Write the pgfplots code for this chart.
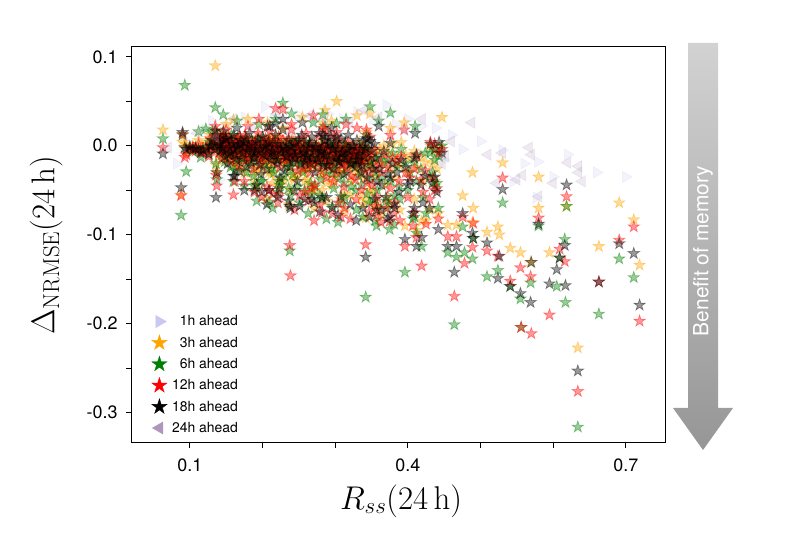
\RequirePackage{fix-cm}
\documentclass[border=0pt]{standalone}
\usepackage[no-math]{fontspec}
\setmainfont{TeX Gyre Heros}
\usepackage{pgfplots}
\pgfplotsset{compat=1.18}
\usepackage{pgfplotstable}

\pgfdeclareplotmark{fstar}{%
  \pgfpathmoveto{\pgfpointpolar{90}{\pgfplotmarksize}}%
  \pgfpathlineto{\pgfpointpolar{126}{0.382\pgfplotmarksize}}%
  \pgfpathlineto{\pgfpointpolar{162}{\pgfplotmarksize}}%
  \pgfpathlineto{\pgfpointpolar{198}{0.382\pgfplotmarksize}}%
  \pgfpathlineto{\pgfpointpolar{234}{\pgfplotmarksize}}%
  \pgfpathlineto{\pgfpointpolar{270}{0.382\pgfplotmarksize}}%
  \pgfpathlineto{\pgfpointpolar{306}{\pgfplotmarksize}}%
  \pgfpathlineto{\pgfpointpolar{342}{0.382\pgfplotmarksize}}%
  \pgfpathlineto{\pgfpointpolar{18}{\pgfplotmarksize}}%
  \pgfpathlineto{\pgfpointpolar{54}{0.382\pgfplotmarksize}}%
  \pgfpathclose
  \pgfusepathqfillstroke
}

\definecolor{c1h}{RGB}{200,200,240}
\definecolor{c3h}{RGB}{255,165,0}
\definecolor{c6h}{RGB}{0,128,0}
\definecolor{c12h}{RGB}{255,0,0}
\definecolor{c18h}{RGB}{0,0,0}
\definecolor{c24h}{RGB}{176,150,186}
\definecolor{arrtop}{RGB}{210,210,210}
\definecolor{arrbot}{RGB}{150,150,150}

% stations: x, 3h (o), 6h (g), 12h (r), 18h (k)
\pgfplotstableread{
x o g r k
0.063 0.018 0.008 -0.002 -0.009
0.088 -0.055 -0.078 -0.056 -0.047
0.090 0.004 0.012 0.013 0.015
0.093 0.002 0.068 -0.013 -0.002
0.095 -0.008 -0.029 -0.010 -0.004
0.100 -0.002 -0.004 -0.003 -0.001
0.104 0.000 -0.006 -0.002 -0.004
0.108 -0.004 -0.002 -0.006 -0.003
0.112 0.006 0.016 0.002 -0.004
0.115 -0.004 -0.013 -0.006 -0.008
0.118 -0.002 -0.004 -0.008 -0.005
0.122 0.004 0.019 -0.004 -0.002
0.126 -0.006 -0.010 -0.012 -0.009
0.130 0.002 0.006 -0.004 0.000
0.135 0.090 0.043 0.022 0.017
0.136 -0.022 -0.020 -0.033 -0.058
0.137 -0.030 -0.038 -0.045 -0.030
0.146 0.012 0.035 0.010 0.006
0.160 0.029 -0.040 -0.055 -0.034
0.162 -0.020 -0.028 -0.040 -0.034
0.175 -0.030 -0.045 -0.040 -0.050
0.189 -0.040 -0.045 -0.052 -0.050
0.209 -0.030 -0.063 -0.050 -0.050
0.218 0.010 0.030 0.042 0.025
0.223 -0.045 -0.040 -0.055 -0.048
0.228 0.020 0.048 0.041 0.030
0.2375 nan -0.118 -0.112 -0.068
0.2385 -0.050 -0.056 -0.146 -0.070
0.258 -0.040 -0.050 -0.052 -0.060
0.268 -0.045 -0.055 -0.048 -0.060
0.282 -0.050 -0.060 -0.075 -0.058
0.283 0.025 0.035 0.020 0.012
0.286 0.040 0.022 0.018 0.010
0.302 0.050 0.025 0.015 0.010
0.308 -0.060 -0.065 -0.080 -0.057
0.342 -0.081 -0.170 -0.111 -0.125
0.343 0.015 0.012 0.018 0.008
0.348 0.036 0.044 0.010 0.005
0.357 -0.070 -0.090 -0.078 -0.072
0.375 -0.065 -0.094 -0.085 -0.080
0.376 0.020 0.037 0.012 0.003
0.396 -0.090 -0.142 -0.113 -0.105
0.409 -0.060 -0.080 -0.075 -0.070
0.412 -0.095 -0.098 -0.103 -0.113
0.419 -0.085 -0.113 -0.135 -0.103
0.430 -0.072 -0.035 -0.060 -0.070
0.437 -0.040 -0.045 -0.050 -0.035
0.447 0.032 0.000 -0.004 -0.008
0.150 0.024 nan 0.018 nan
0.165 nan 0.028 nan 0.020
0.180 0.030 nan 0.022 nan
0.195 nan 0.024 0.030 nan
0.207 0.026 nan nan 0.022
0.240 nan 0.036 0.024 nan
0.255 0.032 nan nan 0.026
0.270 nan 0.026 0.034 nan
0.295 0.028 nan nan 0.020
0.315 nan 0.030 0.024 nan
0.330 0.034 nan 0.020 nan
0.360 nan 0.028 nan 0.022
0.395 0.026 nan 0.018 nan
0.410 nan 0.022 nan 0.014
0.192 -0.048 -0.062 nan -0.044
0.199 nan -0.040 -0.058 -0.052
0.206 -0.060 nan -0.046 -0.066
0.214 -0.042 -0.070 -0.054 nan
0.221 nan -0.052 -0.064 -0.058
0.236 -0.066 -0.048 nan -0.062
0.244 -0.038 nan -0.072 -0.050
0.251 nan -0.064 -0.056 -0.068
0.263 -0.052 -0.076 -0.062 nan
0.271 -0.070 nan -0.084 -0.064
0.279 nan -0.056 -0.066 -0.074
0.288 -0.062 -0.082 nan -0.058
0.296 -0.044 -0.068 -0.076 -0.070
0.304 nan -0.086 -0.064 -0.078
0.313 -0.074 -0.058 -0.070 nan
0.321 -0.056 nan -0.082 -0.066
0.329 nan -0.072 -0.060 -0.084
0.338 -0.066 -0.080 nan -0.070
0.347 -0.050 -0.064 -0.074 -0.080
0.355 nan -0.084 -0.068 -0.060
0.363 -0.078 nan -0.086 -0.072
0.372 -0.058 -0.070 nan -0.082
0.381 nan -0.088 -0.076 -0.066
0.389 -0.072 -0.060 -0.084 nan
0.407 nan -0.082 -0.090 -0.076
0.425 -0.084 -0.076 -0.088 nan
0.442 -0.076 -0.070 -0.082 -0.094
0.361 -0.004 -0.012 -0.020 -0.026
0.364 -0.020 -0.036 -0.030 -0.044
0.367 0.000 -0.018 -0.010 -0.006
0.370 -0.044 -0.062 -0.070 -0.058
0.373 -0.008 -0.016 -0.024 -0.032
0.376 -0.026 -0.040 -0.048 -0.036
0.379 0.002 -0.008 -0.014 -0.020
0.382 -0.036 -0.056 -0.064 -0.070
0.385 -0.012 -0.024 -0.018 -0.030
0.388 -0.022 -0.046 -0.040 -0.052
0.391 0.004 -0.004 -0.012 -0.016
0.397 -0.010 -0.020 -0.030 -0.024
0.400 -0.030 -0.050 -0.058 -0.044
0.403 -0.014 -0.030 -0.036 -0.040
0.409 -0.006 -0.018 -0.026 -0.014
0.412 -0.024 -0.040 -0.012 -0.010
0.418 -0.012 -0.026 -0.038 -0.044
0.421 -0.040 -0.058 -0.052 -0.064
0.424 -0.018 -0.008 -0.028 -0.034
0.431 0.000 -0.008 0.004 0.002
0.434 -0.020 -0.030 -0.036 -0.042
0.437 -0.006 -0.016 0.002 -0.004
0.440 -0.026 -0.042 -0.048 -0.052
0.443 -0.002 -0.012 -0.008 0.004
0.128 0.012 0.004 0.008 0.000
0.131 0.002 0.016 -0.002 0.006
0.134 0.008 0.000 0.010 -0.004
0.137 0.016 0.010 0.004 0.012
0.141 0.004 -0.002 0.012 0.002
0.145 0.000 0.008 -0.004 -0.002
0.149 0.010 0.002 0.006 0.008
0.153 -0.004 -0.008 0.002 -0.010
0.157 0.004 0.012 -0.002 0.006
0.161 -0.006 0.000 -0.010 -0.004
0.165 0.008 0.002 0.004 -0.002
0.169 0.000 -0.004 0.010 0.002
0.173 -0.010 0.004 -0.006 -0.008
0.177 0.006 -0.002 0.000 0.008
0.181 -0.004 -0.010 -0.014 0.000
0.185 0.002 0.006 -0.002 -0.006
0.189 -0.008 -0.002 0.002 -0.012
0.193 0.010 0.000 -0.006 0.004
0.197 -0.002 -0.008 -0.014 -0.004
0.201 0.004 0.008 0.000 -0.010
0.205 -0.010 -0.004 -0.008 0.000
0.209 0.008 0.002 0.006 -0.002
0.213 -0.004 -0.012 -0.002 -0.008
0.217 0.000 0.006 -0.010 0.002
0.221 -0.014 -0.006 0.000 -0.016
0.225 0.006 -0.002 -0.008 -0.004
0.229 -0.006 -0.010 -0.016 -0.002
0.233 0.002 0.004 -0.004 -0.012
0.237 -0.010 -0.016 -0.006 0.000
0.241 0.008 0.000 -0.012 -0.006
0.245 -0.004 -0.008 0.002 -0.014
0.249 0.000 0.006 -0.006 -0.002
0.253 -0.012 -0.018 -0.010 -0.020
0.257 0.004 -0.002 0.000 -0.008
0.261 -0.008 -0.006 -0.016 -0.012
0.265 -0.002 0.004 -0.004 0.002
0.269 -0.016 -0.010 -0.020 -0.014
0.273 0.002 -0.004 -0.008 -0.002
0.277 -0.010 -0.014 -0.002 -0.018
0.281 -0.004 0.002 -0.012 -0.006
0.285 0.006 -0.008 0.000 -0.010
0.289 -0.014 -0.002 -0.018 -0.022
0.293 0.000 -0.010 -0.006 0.002
0.297 -0.006 -0.016 -0.012 -0.004
0.301 0.004 0.000 -0.010 -0.014
0.305 -0.012 -0.006 -0.002 -0.018
0.309 -0.002 -0.014 -0.020 -0.008
0.313 -0.008 0.002 -0.006 -0.012
0.317 0.002 -0.010 -0.016 -0.004
0.321 -0.016 -0.004 -0.012 -0.020
0.325 -0.002 -0.012 -0.008 0.000
0.329 -0.010 -0.020 -0.004 -0.016
0.333 0.004 -0.006 -0.014 -0.010
0.337 -0.006 -0.002 -0.018 -0.022
0.341 0.000 -0.014 -0.008 -0.004
0.4755 -0.056 -0.091 -0.080 -0.076
0.455 -0.089 -0.120 -0.102 -0.113
0.467 -0.089 -0.125 -0.102 -0.113
0.478 nan -0.120 -0.132 nan
0.464 nan -0.201 -0.169 -0.142
0.489 -0.086 -0.127 -0.114 -0.098
0.490 -0.070 -0.104 -0.087 -0.104
0.509 -0.097 -0.147 -0.118 -0.109
0.524 -0.091 -0.140 -0.124 -0.149
0.526 -0.100 nan nan -0.124
0.541 -0.115 -0.158 -0.152 -0.158
0.555 -0.120 -0.172 -0.137 -0.166
0.556 nan -0.204 -0.204 nan
0.569 -0.131 -0.154 -0.147 -0.176
0.570 nan nan -0.211 -0.131
0.580 -0.070 -0.090 -0.081 -0.088
0.595 -0.120 nan -0.190 -0.155
0.605 nan -0.158 nan -0.139
0.616 nan -0.105 -0.130 -0.112
0.617 nan -0.176 nan -0.157
0.609 nan -0.126 -0.116 -0.126
0.634 -0.227 -0.316 -0.276 -0.253
0.663 -0.113 -0.189 -0.153 -0.153
0.691 -0.064 -0.127 -0.106 -0.110
0.711 -0.083 -0.148 -0.091 -0.121
0.719 -0.134 nan -0.197 -0.179
0.5305 -0.019 -0.064 -0.036 -0.049
0.6185 -0.068 -0.068 -0.057 -0.044
0.489 -0.030 nan nan nan
0.580 -0.035 nan nan nan
}\stars

% core stations, x from 0.14 to 0.25 (columns in another order)
\pgfplotstableread{
x r k g o
0.140 -0.008 0.004 -0.002 -0.012
0.142 0.002 -0.006 0.008 -0.001
0.144 -0.014 -0.004 -0.010 -0.006
0.146 0.006 0.016 0.000 0.004
0.148 -0.004 -0.012 -0.018 -0.008
0.150 0.000 0.008 -0.006 -0.014
0.152 -0.010 -0.020 -0.004 -0.016
0.154 0.010 -0.002 0.004 0.000
0.156 -0.018 -0.008 -0.024 -0.012
0.158 -0.002 0.002 -0.010 -0.006
0.160 -0.006 0.012 -0.002 0.006
0.162 0.004 -0.010 -0.014 -0.020
0.164 -0.012 -0.016 -0.006 -0.004
0.166 0.008 0.000 0.010 -0.002
0.168 -0.022 -0.028 -0.018 -0.026
0.170 -0.004 0.006 -0.008 -0.010
0.172 0.002 -0.014 0.002 -0.004
0.174 -0.010 -0.002 -0.016 -0.014
0.176 0.012 0.004 -0.004 0.008
0.178 -0.016 -0.024 -0.030 -0.020
0.180 -0.002 -0.006 0.004 -0.008
0.182 0.006 0.014 -0.010 -0.016
0.184 -0.008 -0.018 -0.022 -0.012
0.186 0.000 0.002 -0.002 -0.004
0.188 -0.026 -0.014 -0.034 -0.030
0.190 0.004 -0.008 -0.006 0.002
0.192 -0.012 -0.004 -0.018 -0.024
0.194 0.014 0.008 0.002 -0.006
0.196 -0.006 -0.022 -0.012 -0.016
0.198 -0.020 -0.032 -0.040 -0.028
0.200 0.002 0.010 -0.004 -0.010
0.202 -0.010 -0.002 -0.020 -0.014
0.204 0.008 -0.012 0.000 -0.002
0.206 -0.014 -0.026 -0.008 -0.022
0.208 -0.002 0.004 -0.014 -0.018
0.210 0.016 0.022 0.006 0.004
0.212 -0.008 -0.016 -0.026 -0.032
0.214 0.004 -0.006 -0.002 -0.008
0.216 -0.018 -0.010 -0.030 -0.024
0.218 0.000 0.012 -0.010 -0.014
0.220 -0.006 -0.020 -0.016 -0.004
0.222 0.010 0.002 -0.006 -0.012
0.224 -0.024 -0.036 -0.044 -0.038
0.226 -0.004 -0.008 0.002 -0.010
0.228 0.006 0.018 -0.012 -0.018
0.230 -0.012 -0.028 -0.034 -0.040
0.232 -0.002 -0.004 -0.020 -0.016
0.234 -0.016 -0.012 -0.024 -0.008
0.236 0.008 0.006 -0.004 -0.002
0.238 -0.008 -0.024 -0.018 -0.028
0.240 0.018 -0.002 0.004 -0.006
0.242 -0.014 -0.018 -0.032 -0.036
0.244 0.002 -0.010 -0.012 -0.020
0.246 -0.006 0.004 -0.008 -0.004
0.248 -0.028 -0.040 -0.046 -0.034
}\starsA

% core stations, x from 0.25 to 0.36 (columns in another order)
\pgfplotstableread{
x k r o g
0.250 0.006 0.000 -0.016 -0.012
0.252 -0.010 -0.014 -0.006 -0.022
0.254 0.012 0.008 -0.002 -0.008
0.256 -0.004 -0.026 -0.028 -0.030
0.258 -0.018 -0.006 -0.020 -0.014
0.260 0.004 0.014 -0.010 -0.002
0.262 -0.012 -0.022 -0.038 -0.026
0.264 -0.002 -0.008 -0.014 -0.018
0.266 -0.020 -0.030 -0.024 -0.042
0.268 0.010 0.002 -0.004 -0.010
0.270 -0.006 -0.016 -0.022 -0.006
0.272 -0.030 -0.044 -0.050 -0.046
0.274 0.000 -0.004 -0.012 -0.016
0.276 -0.014 -0.020 -0.008 -0.024
0.278 0.014 0.010 -0.002 -0.008
0.280 -0.008 -0.028 -0.034 -0.038
0.282 -0.002 -0.010 -0.018 -0.012
0.284 -0.022 -0.014 -0.028 -0.020
0.286 0.006 0.000 -0.006 -0.014
0.288 -0.010 -0.036 -0.042 -0.030
0.290 0.002 -0.006 -0.016 -0.022
0.292 -0.016 -0.024 -0.010 -0.018
0.294 0.010 0.012 -0.004 -0.002
0.296 -0.004 -0.018 -0.026 -0.032
0.298 -0.026 -0.040 -0.036 -0.048
0.300 0.004 -0.002 -0.012 -0.008
0.302 -0.012 -0.030 -0.020 -0.026
0.304 -0.002 0.006 -0.008 -0.016
0.306 -0.018 -0.012 -0.030 -0.036
0.308 0.008 -0.008 -0.002 -0.010
0.310 -0.008 -0.022 -0.028 -0.020
0.312 -0.032 -0.046 -0.054 -0.042
0.314 0.002 -0.004 -0.014 -0.018
0.316 -0.014 -0.026 -0.010 -0.030
0.318 0.012 0.004 -0.006 -0.004
0.320 -0.006 -0.016 -0.024 -0.012
0.322 -0.020 -0.034 -0.040 -0.046
0.324 0.000 -0.010 -0.016 -0.022
0.326 -0.010 -0.002 -0.020 -0.008
0.328 -0.024 -0.038 -0.030 -0.050
0.330 0.006 -0.006 -0.012 -0.016
0.332 -0.016 -0.020 -0.028 -0.034
0.334 -0.004 -0.012 -0.004 -0.014
0.336 -0.030 -0.050 -0.058 -0.044
0.338 0.004 -0.002 -0.010 -0.018
0.340 -0.012 -0.028 -0.036 -0.026
0.342 -0.002 -0.016 -0.020 -0.010
0.344 -0.036 -0.042 -0.062 -0.054
0.346 0.008 -0.008 -0.014 -0.004
0.348 -0.018 -0.030 -0.024 -0.038
0.350 -0.006 -0.012 -0.018 -0.022
0.352 -0.026 -0.044 -0.052 -0.060
0.354 0.002 -0.004 -0.008 -0.014
0.356 -0.014 -0.024 -0.034 -0.030
0.358 -0.040 -0.058 -0.066 -0.050
}\starsB

% 1h ahead (right-pointing triangles)
\pgfplotstableread{
x y
0.082 -0.020
0.095 0.005
0.120 0.018
0.130 0.028
0.141 -0.038
0.150 0.022
0.175 0.032
0.203 0.044
0.215 0.030
0.230 0.025
0.250 0.034
0.270 0.028
0.290 0.036
0.310 0.030
0.330 0.038
0.352 0.030
0.370 0.046
0.383 0.024
0.400 0.030
0.418 0.022
0.438 0.020
0.450 -0.016
0.460 0.012
0.475 -0.004
0.500 0.005
0.530 -0.005
0.545 -0.040
0.560 -0.020
0.579 -0.018
0.577 -0.058
0.600 -0.035
0.620 -0.010
0.660 -0.030
0.700 -0.035
}\tone

% 24h ahead (left-pointing triangles)
\pgfplotstableread{
x y
0.070 -0.002
0.110 0.014
0.135 0.010
0.160 0.030
0.185 0.020
0.220 0.036
0.240 0.015
0.265 0.034
0.285 0.030
0.320 0.026
0.340 0.040
0.360 0.032
0.395 0.018
0.420 0.030
0.447 -0.020
0.452 -0.012
0.460 0.005
0.488 0.026
0.510 -0.010
0.530 -0.008
0.522 -0.042
0.550 -0.038
0.558 -0.033
0.567 -0.002
0.570 -0.010
0.580 -0.057
0.600 -0.042
0.620 -0.019
0.635 -0.023
0.635 -0.030
0.640 -0.040
}\ttwentyfour

\pgfplotsset{
  starO/.style={forget plot, only marks, mark=fstar, mark size=6bp,
    mark options={fill=c3h, draw=c3h, opacity=0.4, line width=0.7bp}},
  starG/.style={forget plot, only marks, mark=fstar, mark size=6bp,
    mark options={fill=c6h, draw=c6h, opacity=0.4, line width=0.7bp}},
  starR/.style={forget plot, only marks, mark=fstar, mark size=6bp,
    mark options={fill=c12h, draw=c12h, opacity=0.4, line width=0.7bp}},
  starK/.style={forget plot, only marks, mark=fstar, mark size=6bp,
    mark options={fill=c18h, draw=c18h, opacity=0.4, line width=0.7bp}},
}

\begin{document}
\begin{tikzpicture}
\useasboundingbox (0,0) rectangle (789bp,545bp);
\begin{axis}[
  at={(131bp,102bp)}, anchor=south west,
  width=534bp, height=396bp, scale only axis,
  xmin=0.019, xmax=0.754, ymin=-0.334, ymax=0.111,
  xtick={0.1,0.2,0.3,0.4,0.5,0.6,0.7},
  xticklabels={0.1,,,0.4,,,0.7},
  ytick={-0.3,-0.25,-0.2,-0.15,-0.1,-0.05,0,0.05,0.1},
  yticklabels={-0.3,,-0.2,,-0.1,,0.0,,0.1},
  tick align=outside, xtick pos=left, ytick pos=left,
  major tick length=5bp,
  tick style={black, line width=0.8bp},
  axis line style={line width=1bp},
  ticklabel style={font=\fontsize{18}{21}\selectfont},
  yticklabel style={xshift=-5bp},
  xticklabel style={yshift=-7bp},
  xlabel={$R_{ss}(24\,\mathrm{h})$},
  ylabel={$\Delta_{\mathrm{NRMSE}}(24\,\mathrm{h})$},
  label style={font=\fontsize{33}{39}\selectfont},
  xlabel style={at={(axis description cs:0.506,-0.146)}, anchor=center},
  ylabel style={at={(axis description cs:-0.159,0.5)}, anchor=center},
  legend style={at={(0.033,0.332)}, anchor=north west, draw=none, fill=none,
    font=\fontsize{14}{16}\selectfont, row sep=5.5bp, column sep=3bp},
  legend cell align=right,
]
\addlegendimage{only marks, mark=triangle*, mark size=7bp, mark options={rotate=-90, fill=c1h, draw=c1h}}
\addlegendentry{1h ahead}
\addlegendimage{only marks, mark=fstar, mark size=8bp, mark options={fill=c3h, draw=c3h}}
\addlegendentry{3h ahead}
\addlegendimage{only marks, mark=fstar, mark size=8bp, mark options={fill=c6h, draw=c6h}}
\addlegendentry{6h ahead}
\addlegendimage{only marks, mark=fstar, mark size=8bp, mark options={fill=c12h, draw=c12h}}
\addlegendentry{12h ahead}
\addlegendimage{only marks, mark=fstar, mark size=8bp, mark options={fill=c18h, draw=c18h}}
\addlegendentry{18h ahead}
\addlegendimage{only marks, mark=triangle*, mark size=7bp, mark options={rotate=90, fill=c24h, draw=c24h}}
\addlegendentry{24h ahead}

\addplot[forget plot, only marks, mark=triangle*, mark size=6.5bp,
  mark options={rotate=-90, fill=c1h, draw=c1h, opacity=0.22, line width=0.6bp}]
  table[x=x, y=y] {\tone};
\addplot[starO] table[x=x, y=o] {\stars};
\addplot[starO] table[x=x, y=o] {\starsA};
\addplot[starO] table[x=x, y=o] {\starsB};
\addplot[starG] table[x=x, y=g] {\stars};
\addplot[starG] table[x=x, y=g] {\starsA};
\addplot[starG] table[x=x, y=g] {\starsB};
\addplot[starR] table[x=x, y=r] {\stars};
\addplot[starR] table[x=x, y=r] {\starsA};
\addplot[starR] table[x=x, y=r] {\starsB};
\addplot[starK] table[x=x, y=k] {\stars};
\addplot[starK] table[x=x, y=k] {\starsA};
\addplot[starK] table[x=x, y=k] {\starsB};
\addplot[forget plot, only marks, mark=triangle*, mark size=6.5bp,
  mark options={rotate=90, fill=c24h, draw=c24h, opacity=0.2, line width=0.6bp}]
  table[x=x, y=y] {\ttwentyfour};
\end{axis}
\shade[top color=arrtop, bottom color=arrbot]
  (688bp,502bp) -- (718bp,502bp) -- (718bp,137bp) -- (733bp,137bp)
  -- (703bp,95bp) -- (673bp,137bp) -- (688bp,137bp) -- cycle;
\node[rotate=90, text=white, font=\fontsize{21}{25}\selectfont] at (703bp,294bp) {Benefit of memory};
\end{tikzpicture}
\end{document}
